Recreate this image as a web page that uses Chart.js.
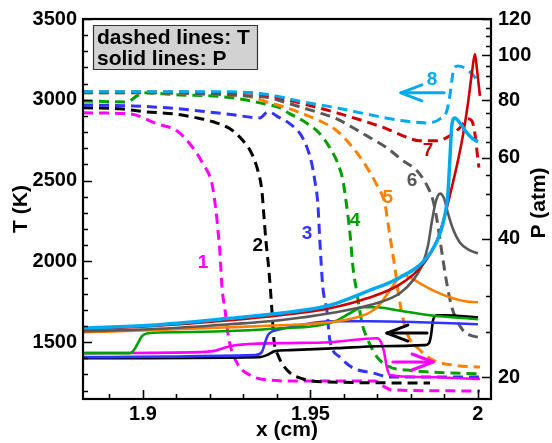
<!DOCTYPE html>
<html><head><meta charset="utf-8">
<script src="https://cdn.jsdelivr.net/npm/chart.js@4.4.0/dist/chart.umd.min.js"></script>
<style>html,body{margin:0;padding:0;background:#fff}canvas{display:block}</style>
</head><body>
<canvas id="c" width="552" height="443"></canvas>
<script>
// ---------- data (x in cm, T in K, P in atm) ----------
const seriesNames = ['1','2','3','4','5','6','7','8'];
const seriesColors = ['#ff00ff','#000000','#3333ff','#00a000','#ff8000','#595959','#d00000','#00aaf0'];

const t1x = [1.8821,1.8961,1.9042,1.9101,1.9149,1.9179,1.9206,1.9218,1.9224,1.9230,1.9236,1.9245,1.9257,1.9281,1.9319,1.9370,1.9469,1.9693,1.9716,1.9743,2.0006];
const t1  = [2919,2913,2851,2808,2703,2604,2481,2314,2191,2049,1839,1697,1512,1370,1296,1266,1259,1259,1229,1204,1198];
const p1x = [1.8821,1.9170,1.9209,1.9239,1.9275,1.9409,1.9558,1.9699,1.9711,1.9720,1.9728,1.9737,1.9827,2.0006];
const p1  = [22.54,22.66,22.77,23.11,23.46,23.70,23.81,24.29,23.81,22.66,21.02,20.2,20.0,19.8];

const t2x = [1.8821,1.8931,1.9012,1.9090,1.9161,1.9209,1.9260,1.9299,1.9325,1.9343,1.9355,1.9361,1.9367,1.9376,1.9385,1.9391,1.9403,1.9430,1.9478,1.9558,1.9857];
const t2  = [2950,2944,2925,2913,2888,2864,2820,2746,2666,2561,2438,2284,2129,1944,1697,1512,1420,1327,1272,1253,1247];
const p2x = [1.8821,1.9349,1.9370,1.9394,1.9439,1.9579,1.9707,1.9842,1.9854,1.9860,1.9866,1.9878,1.9901,2.0000];
const p2  = [21.99,22.10,22.32,22.77,22.88,23.11,23.34,23.46,23.70,24.66,26.58,27.25,27.25,26.98];

const t3x = [1.8821,1.8970,1.9072,1.9170,1.9269,1.9349,1.9373,1.9409,1.9439,1.9469,1.9490,1.9504,1.9513,1.9522,1.9528,1.9537,1.9549,1.9558,1.9588,1.9627,1.9687,1.9737,2.0006];
const t3  = [2968,2962,2950,2931,2907,2888,2925,2888,2851,2790,2703,2604,2500,2358,2129,1839,1697,1512,1407,1340,1309,1284,1284];
const p3x = [1.8821,1.9334,1.9355,1.9364,1.9373,1.9388,1.9409,1.9469,1.9558,1.9678,1.9827,2.0000];
const p3  = [22.10,22.32,22.66,23.70,24.66,25.16,25.41,25.92,26.44,26.44,26.31,26.05];

const t4x = [1.8821,1.8952,1.8982,1.9000,1.9110,1.9209,1.9290,1.9349,1.9409,1.9439,1.9478,1.9528,1.9558,1.9582,1.9597,1.9606,1.9618,1.9627,1.9639,1.9654,1.9672,1.9699,1.9737,1.9788,1.9857,2.0006];
const t4  = [2993,2987,3024,3043,3030,3024,3005,2981,2950,2913,2870,2790,2703,2604,2500,2376,2173,1963,1802,1617,1512,1407,1346,1327,1315,1303];
const p4x = [1.8821,1.8961,1.8973,1.8985,1.8997,1.9015,1.9110,1.9319,1.9409,1.9507,1.9573,1.9618,1.9657,1.9699,1.9758,1.9857,2.0000];
const p4  = [22.54,22.54,22.88,23.70,24.54,24.91,25.03,25.28,25.54,25.79,26.44,27.52,28.36,28.36,27.94,27.25,26.71];

const t5x = [1.8821,1.9021,1.9170,1.9319,1.9379,1.9430,1.9478,1.9528,1.9579,1.9627,1.9669,1.9699,1.9722,1.9737,1.9752,1.9761,1.9773,1.9788,1.9827,1.9866,1.9925,2.0006];
const t5  = [3043,3043,3036,3018,2981,2950,2913,2870,2808,2703,2580,2469,2358,2160,1963,1821,1679,1556,1451,1389,1358,1346];
const p5x = [1.8821,1.9021,1.9260,1.9409,1.9558,1.9639,1.9678,1.9707,1.9737,1.9758,1.9776,1.9797,1.9827,1.9872,1.9925,1.9961,2.0000];
const p5  = [25.03,25.28,25.67,25.92,26.31,26.98,27.66,28.78,30.87,32.44,33.27,32.93,31.96,30.71,29.66,29.22,29.07];

const t6x = [1.8821,1.9021,1.9319,1.9379,1.9430,1.9478,1.9528,1.9579,1.9627,1.9678,1.9728,1.9776,1.9818,1.9848,1.9866,1.9878,1.9887,1.9896,1.9907,1.9922,1.9937,1.9955,1.9976,2.0000];
const t6  = [3043,3043,3024,3012,2981,2950,2919,2882,2827,2765,2703,2623,2561,2469,2376,2253,2129,2006,1864,1716,1636,1574,1543,1531];
const p6x = [1.8821,1.9021,1.9260,1.9409,1.9558,1.9707,1.9767,1.9806,1.9833,1.9851,1.9863,1.9875,1.9887,1.9899,1.9910,1.9925,1.9946,1.9976,2.0000];
const p6  = [25.16,25.41,26.05,26.58,27.52,29.07,30.41,32.44,34.96,38.63,43.76,48.35,50.07,48.84,45.55,42.05,39.22,37.68,37.12];

const t7x = [1.8821,1.9319,1.9379,1.9478,1.9579,1.9657,1.9728,1.9776,1.9827,1.9878,1.9916,1.9946,1.9970,1.9982,1.9991,1.9997,2.0003];
const t7  = [3049,3043,3024,2975,2919,2870,2820,2777,2746,2746,2777,2827,2882,2870,2790,2685,2580];
const p7x = [1.8821,1.9021,1.9260,1.9409,1.9558,1.9669,1.9767,1.9836,1.9878,1.9901,1.9916,1.9937,1.9955,1.9970,1.9982,1.9991,1.9997,2.0006];
const p7  = [25.41,25.79,26.58,27.25,28.22,29.66,31.80,35.14,39.61,44.87,49.57,57.58,66.87,78.45,91.56,100.66,93.4,81.63];

const t8x = [1.8821,1.9260,1.9379,1.9478,1.9579,1.9678,1.9776,1.9848,1.9887,1.9907,1.9916,1.9922,1.9928,1.9940,1.9961,1.9982,2.0000];
const t8  = [3049,3049,3030,2987,2950,2907,2870,2857,2882,2931,3024,3117,3191,3209,3197,3160,3117];
const p8x = [1.8821,1.9021,1.9260,1.9409,1.9558,1.9669,1.9767,1.9848,1.9887,1.9901,1.9910,1.9916,1.9922,1.9931,1.9946,1.9967,1.9985,2.0000];
const p8  = [25.54,25.92,26.84,27.52,28.64,30.71,32.93,36.39,41.02,44.87,49.57,59.03,70.29,73.15,71.34,67.88,65.88,64.9];

// axis ranges and ticks
const xMin = 1.8821, xMax = 2.0039;
const tMin = 1148, tMax = 3500;
const pMin = 17.92, pMax = 120;
const xLabelTicks = [1.9, 1.95, 2.0];
const xAllTicks = [1.89,1.90,1.91,1.92,1.93,1.94,1.95,1.96,1.97,1.98,1.99,2.00];
const tLabelTicks = [1500, 2000, 2500, 3000, 3500];
const tAllTicks = [1200,1300,1400,1500,1600,1700,1800,1900,2000,2100,2200,2300,2400,2500,2600,2700,2800,2900,3000,3100,3200,3300,3400,3500];
const pLabelTicks = [20, 40, 60, 80, 100, 120];
const pAllTicks = [20,25,30,35,40,45,50,55,60,65,70,75,80,85,90,95,100,105,110,115,120];

// annotations (data coordinates: x, T)
const labelX = [1.9179,1.9343,1.9490,1.9633,1.9731,1.9803,1.9851,1.9863];
const labelT = [1994,2099,2173,2253,2395,2500,2685,3123];
const arrowFromX = [1.9848,1.9746,1.9899];
const arrowToX   = [1.9728,1.9866,1.9770];
const arrowT     = [1556,1377,3043];
const arrowColorIdx = [1,0,7];
const boxLines = ['dashed lines: T','solid lines: P'];

// ---------- chart ----------
const FONT = "'Liberation Sans', Arial, Helvetica, sans-serif";
const tX = [t1x,t2x,t3x,t4x,t5x,t6x,t7x,t8x], tY = [t1,t2,t3,t4,t5,t6,t7,t8];
const pX = [p1x,p2x,p3x,p4x,p5x,p6x,p7x,p8x], pY = [p1,p2,p3,p4,p5,p6,p7,p8];
const zip = (xs, ys) => xs.map((x, i) => ({x, y: ys[i]}));

const datasets = [];
seriesNames.forEach((n, i) => {
  datasets.push({label: 'T' + n, data: zip(tX[i], tY[i]), yAxisID: 'y', borderColor: seriesColors[i],
    borderWidth: 3, borderDash: [10, 6], pointRadius: 0, fill: false, cubicInterpolationMode: 'monotone', order: 40 - i});
});
seriesNames.forEach((n, i) => {
  datasets.push({label: 'P' + n, data: zip(pX[i], pY[i]), yAxisID: 'y2', borderColor: seriesColors[i],
    borderWidth: i === 7 ? 3.5 : 2.6, pointRadius: 0, fill: false, cubicInterpolationMode: 'monotone', order: 20 - i});
});

function drawArrow(ctx, x1, y1, x2, y2, color) {
  const ang = Math.atan2(y2 - y1, x2 - x1), L = 21, W = 8;
  ctx.strokeStyle = color; ctx.lineWidth = 3; ctx.lineCap = 'round'; ctx.lineJoin = 'round';
  ctx.beginPath(); ctx.moveTo(x1, y1); ctx.lineTo(x2, y2); ctx.stroke();
  const bx = x2 - L * Math.cos(ang), by = y2 - L * Math.sin(ang);
  const nx = -Math.sin(ang) * W, ny = Math.cos(ang) * W;
  ctx.beginPath(); ctx.moveTo(bx + nx, by + ny); ctx.lineTo(x2, y2); ctx.lineTo(bx - nx, by - ny); ctx.stroke();
}

const deco = {
  id: 'deco',
  afterDatasetsDraw(chart) {
    const {ctx, chartArea: a, scales} = chart;
    ctx.save();
    // frame
    ctx.strokeStyle = '#000'; ctx.lineWidth = 2.2;
    ctx.strokeRect(a.left, a.top, a.right - a.left, a.bottom - a.top);
    ctx.lineWidth = 1.6; ctx.beginPath();
    xAllTicks.forEach(v => {
      const p = Math.round(scales.x.getPixelForValue(v)) + 0.5;
      const major = xLabelTicks.some(m => Math.abs(m - v) < 1e-6);
      ctx.moveTo(p, a.bottom); ctx.lineTo(p, a.bottom - (major ? 9 : 5));
    });
    tAllTicks.forEach(v => {
      const p = Math.round(scales.y.getPixelForValue(v)) + 0.5;
      const major = v % 500 === 0;
      ctx.moveTo(a.left, p); ctx.lineTo(a.left + (major ? 9 : 5), p);
    });
    pAllTicks.forEach(v => {
      const p = Math.round(scales.y2.getPixelForValue(v)) + 0.5;
      const major = v % 20 === 0;
      ctx.moveTo(a.right, p); ctx.lineTo(a.right - (major ? 9 : 5), p);
    });
    ctx.stroke();
    // number labels
    ctx.font = 'bold 19px ' + FONT; ctx.textAlign = 'center'; ctx.textBaseline = 'middle';
    seriesNames.forEach((n, i) => {
      ctx.fillStyle = seriesColors[i];
      ctx.fillText(n, scales.x.getPixelForValue(labelX[i]), scales.y.getPixelForValue(labelT[i]));
    });
    // arrows
    arrowT.forEach((t, i) => {
      const y = scales.y.getPixelForValue(t);
      drawArrow(ctx, scales.x.getPixelForValue(arrowFromX[i]), y, scales.x.getPixelForValue(arrowToX[i]), y, seriesColors[arrowColorIdx[i]]);
    });
    // legend box
    const bx = a.left + 10, by = a.top + 6;
    ctx.fillStyle = '#d2d2d2'; ctx.fillRect(bx, by, 164, 44);
    ctx.strokeStyle = '#333'; ctx.lineWidth = 1.2; ctx.strokeRect(bx + 0.5, by + 0.5, 164, 44);
    ctx.fillStyle = '#000'; ctx.font = 'bold 21px ' + FONT; ctx.textAlign = 'left'; ctx.textBaseline = 'alphabetic';
    ctx.fillText(boxLines[0], bx + 4, by + 19);
    ctx.fillText(boxLines[1], bx + 4, by + 40);
    // right axis title
    ctx.save();
    ctx.translate(539, (a.top + a.bottom) / 2 - 6);
    ctx.rotate(-Math.PI / 2);
    ctx.textAlign = 'center'; ctx.textBaseline = 'middle'; ctx.font = 'bold 21px ' + FONT;
    ctx.fillText('P (atm)', 0, 0);
    ctx.restore();
    ctx.restore();
  }
};

const tickFont = {family: FONT, size: 20, weight: 'bold'};
const titleFont = {family: FONT, size: 21, weight: 'bold'};

new Chart(document.getElementById('c'), {
  type: 'line',
  data: {datasets},
  options: {
    responsive: false, animation: false, devicePixelRatio: 1,
    layout: {padding: {top: 18, left: 0, right: 0, bottom: 0}},
    plugins: {legend: {display: false}, tooltip: {enabled: false}},
    scales: {
      x: {type: 'linear', min: xMin, max: xMax,
        grid: {display: false, drawTicks: false}, border: {display: false},
        afterBuildTicks: s => { s.ticks = xLabelTicks.map(v => ({value: v})); },
        afterFit: s => { s.height = 44; },
        ticks: {autoSkip: false, maxRotation: 0, padding: 3, color: '#000', font: tickFont,
          callback: v => String(+(+v).toFixed(2))},
        title: {display: true, text: 'x (cm)', color: '#000', font: titleFont, padding: {top: 0, bottom: 0}}},
      y: {type: 'linear', position: 'left', min: tMin, max: tMax,
        grid: {display: false, drawTicks: false}, border: {display: false},
        afterBuildTicks: s => { s.ticks = tLabelTicks.map(v => ({value: v})); },
        afterFit: s => { s.width = 83; },
        ticks: {autoSkip: false, padding: 6, color: '#000', font: tickFont, callback: v => String(v)},
        title: {display: true, text: 'T (K)', color: '#000', font: titleFont, padding: {top: 9, bottom: 0}}},
      y2: {type: 'logarithmic', position: 'right', min: pMin, max: pMax,
        grid: {display: false, drawTicks: false}, border: {display: false},
        afterBuildTicks: s => { s.ticks = pLabelTicks.map(v => ({value: v})); },
        afterFit: s => { s.width = 61; },
        ticks: {autoSkip: false, padding: 7, color: '#000', font: tickFont, callback: v => String(v)}}
    }
  },
  plugins: [deco]
});
</script></body></html>
